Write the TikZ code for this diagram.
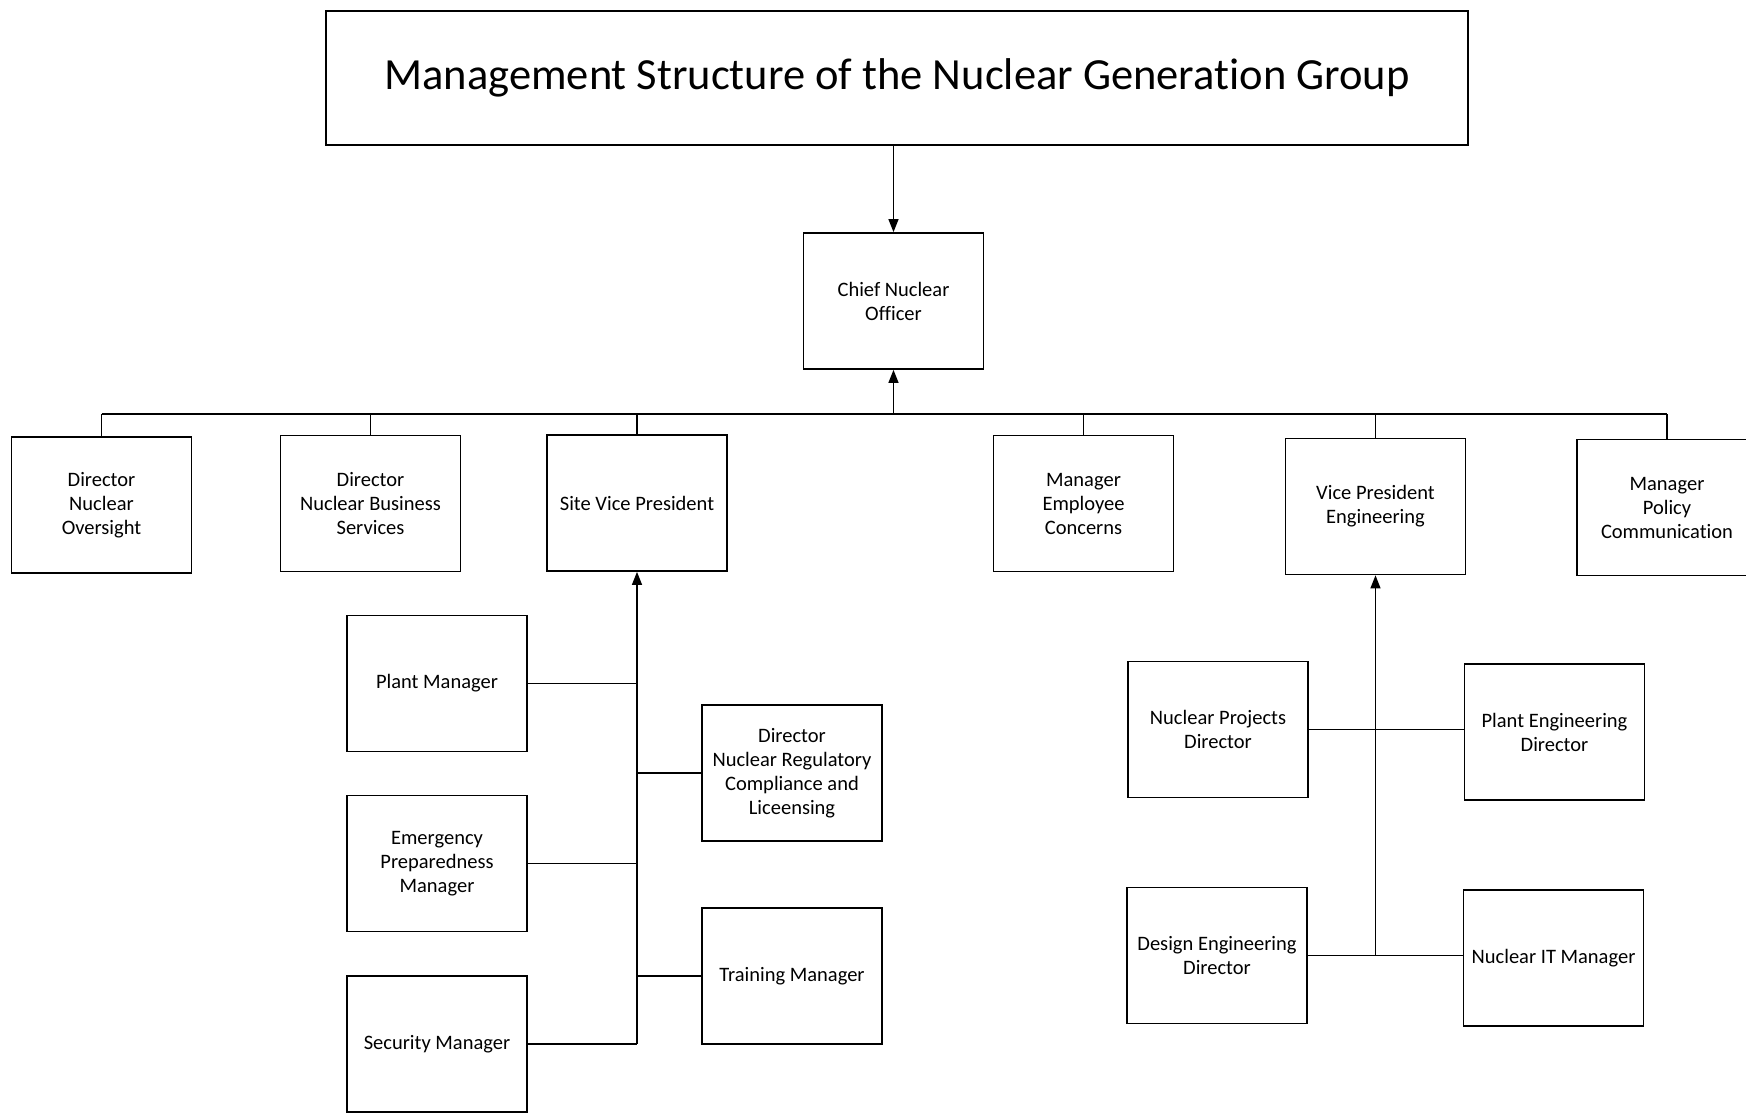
\documentclass[tikz,border=0pt]{standalone}
\usepackage{fontspec}
\setmainfont{Carlito}[Ligatures=CommonOff]
\usetikzlibrary{arrows.meta,calc}

\begin{document}
\begin{tikzpicture}[x=1pt,y=-1pt,
  box/.style={draw, line width=1.7pt, rectangle, align=center, inner sep=0pt,
    minimum width=180pt, minimum height=136pt,
    font=\fontsize{20.5}{24}\selectfont},
  titlebox/.style={draw, line width=1.7pt, rectangle, align=center, inner sep=0pt,
    minimum width=1142pt, minimum height=134pt,
    font=\fontsize{44.5}{52}\selectfont},
  link/.style={line width=1.2pt},
  uparrow/.style={link, -{Triangle[length=13pt,width=10pt]}}
]
\useasboundingbox (0,0) rectangle (1746,1113);
\begin{scope}
\clip (0,0) rectangle (1746,1113);

% title and chief officer
\node[titlebox] (title) at (897,78) {Management Structure of the Nuclear Generation Group};
\node[box] (cno) at (893.5,301) {Chief Nuclear\\Officer};

% second level
\node[box] (dno)  at (101.5,505)  {Director\\Nuclear\\Oversight};
\node[box] (dnbs) at (370.5,503.5){Director\\Nuclear Business\\Services};
\node[box] (svp)  at (637,503)    {Site Vice President};
\node[box] (mec)  at (1083.5,503.5){Manager\\Employee\\Concerns};
\node[box] (vpe)  at (1375.5,506.5){Vice President\\Engineering};
\node[box] (mpc)  at (1667,507.5) {Manager\\Policy\\Communication};

% site vice president staff
\node[box] (pm)   at (437,683.5)  {Plant Manager};
\node[box] (epm)  at (437,863.5)  {Emergency\\Preparedness\\Manager};
\node[box] (sm)   at (437,1044)   {Security Manager};
\node[box] (nrcl) at (792,773)    {Director\\Nuclear Regulatory\\Compliance and\\Liceensing};
\node[box] (tm)   at (792,976)    {Training Manager};

% engineering staff
\node[box] (npd)  at (1218,729.5) {Nuclear Projects\\Director};
\node[box] (ped)  at (1554.5,732) {Plant Engineering\\Director};
\node[box] (ded)  at (1217,955.5) {Design Engineering\\Director};
\node[box] (nitm) at (1553.5,958) {Nuclear IT Manager};

% title to chief officer
\draw[uparrow] (title.south -| cno.north) -- (cno.north);

% bus under the chief officer
\coordinate (bus) at (893.5,414);
\draw[uparrow] (cno.south |- bus) -- (cno.south);
\draw[link] (dno.north |- bus) -- (mpc.north |- bus);
\foreach \n in {dno,dnbs,svp,mec,vpe,mpc}
  \draw[link] (\n.north |- bus) -- (\n.north);

% site vice president spine
\draw[uparrow] (svp.south |- sm.east) -- (svp.south);
\foreach \n in {pm,epm,sm}
  \draw[link] (\n.east) -- (\n.east -| svp.south);
\foreach \n in {nrcl,tm}
  \draw[link] (\n.west) -- (\n.west -| svp.south);

% engineering spine with two cross branches
\draw[uparrow] (vpe.south |- ded.east) -- (vpe.south);
\draw[link] (npd.east) -- (npd.east -| ped.west);
\draw[link] (ded.east) -- (ded.east -| nitm.west);
\end{scope}
\end{tikzpicture}
\end{document}
